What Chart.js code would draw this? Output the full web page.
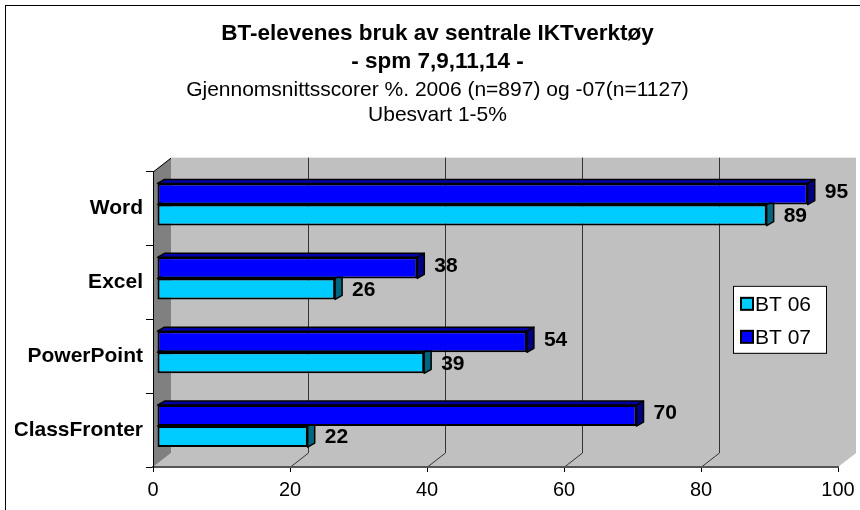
<!DOCTYPE html>
<html><head><meta charset="utf-8">
<script src="https://cdn.jsdelivr.net/npm/chart.js@4/dist/chart.umd.min.js"></script>
<style>html,body{margin:0;padding:0;background:#fff}#wrap{width:860px;height:510px}</style>
</head><body><div id="wrap"><canvas id="c" width="860" height="510"></canvas></div>
<script>
const categories = ['Word', 'Excel', 'PowerPoint', 'ClassFronter'];
const bt06 = [89, 26, 39, 22];
const bt07 = [95, 38, 54, 70];
const seriesNames = ['BT 06', 'BT 07'];
const xTickValues = [0, 20, 40, 60, 80, 100];
const titleLines = ['BT-elevenes bruk av sentrale IKTverktøy', '- spm 7,9,11,14 -'];
const subtitleLines = ['Gjennomsnittsscorer %. 2006 (n=897) og -07(n=1127)', 'Ubesvart 1-5%'];

const FONT = "'Liberation Sans', Arial, sans-serif";
const WALL = {dx: 18, dy: 14};
const SHIFT = {x: 4, y: -4};
const CAP = {x: 7, y: -4};

const threeD = {
  id: 'threeD',
  beforeDraw(chart) {
    const ctx = chart.ctx;
    const {left, right, top, bottom} = chart.chartArea;
    const xs = chart.scales.x;
    ctx.save();
    ctx.fillStyle = '#fff';
    ctx.fillRect(0, 0, chart.width, chart.height);
    ctx.strokeStyle = '#000';
    ctx.lineWidth = 1;
    ctx.strokeRect(5.5, 5.5, chart.width + 10, chart.height + 10);
    // back wall
    ctx.fillStyle = '#C0C0C0';
    ctx.fillRect(left + WALL.dx, top - WALL.dy, right - left, bottom - top);
    // floor
    ctx.beginPath();
    ctx.moveTo(left, bottom); ctx.lineTo(left + WALL.dx, bottom - WALL.dy);
    ctx.lineTo(right + WALL.dx, bottom - WALL.dy); ctx.lineTo(right, bottom);
    ctx.closePath(); ctx.fill();
    // left wall
    ctx.fillStyle = '#808080';
    ctx.beginPath();
    ctx.moveTo(left, top); ctx.lineTo(left + WALL.dx, top - WALL.dy);
    ctx.lineTo(left + WALL.dx, bottom - WALL.dy); ctx.lineTo(left, bottom);
    ctx.closePath(); ctx.fill();
    ctx.strokeStyle = '#000';
    ctx.beginPath();
    ctx.moveTo(left, top + 0.5); ctx.lineTo(left + WALL.dx, top - WALL.dy + 0.5);
    ctx.stroke();
    // grid lines on back wall + floor
    ctx.strokeStyle = '#333';
    ctx.lineWidth = 1;
    xs.ticks.forEach(t => {
      if (t.value <= xs.min || t.value >= xs.max) return;
      const px = Math.round(xs.getPixelForValue(t.value)) + 0.5;
      ctx.beginPath();
      ctx.moveTo(px + WALL.dx, top - WALL.dy);
      ctx.lineTo(px + WALL.dx, bottom - WALL.dy);
      ctx.moveTo(px, bottom);
      ctx.lineTo(px + WALL.dx, bottom - WALL.dy);
      ctx.stroke();
    });
    ctx.restore();
  },
  beforeDatasetsDraw(chart) {
    chart.ctx.save();
    chart.ctx.translate(SHIFT.x, SHIFT.y);
  },
  afterDatasetDraw(chart, args) {
    const ctx = chart.ctx;
    const ds = chart.data.datasets[args.index];
    ctx.save();
    ctx.strokeStyle = '#000';
    ctx.lineWidth = 1.5;
    ctx.lineJoin = 'round';
    args.meta.data.forEach(el => {
      const p = el.getProps(['x', 'y', 'base', 'height'], true);
      const t = p.y - p.height / 2, b = p.y + p.height / 2;
      ctx.fillStyle = ds.capColor;
      ctx.beginPath();
      ctx.moveTo(p.base, t); ctx.lineTo(p.base + CAP.x, t + CAP.y);
      ctx.lineTo(p.x + CAP.x, t + CAP.y); ctx.lineTo(p.x, t);
      ctx.closePath(); ctx.fill(); ctx.stroke();
      ctx.fillStyle = ds.sideColor;
      ctx.beginPath();
      ctx.moveTo(p.x, t); ctx.lineTo(p.x + CAP.x, t + CAP.y);
      ctx.lineTo(p.x + CAP.x, b + CAP.y); ctx.lineTo(p.x, b);
      ctx.closePath(); ctx.fill(); ctx.stroke();
    });
    ctx.restore();
  },
  afterDatasetsDraw(chart) {
    const ctx = chart.ctx;
    ctx.restore();
    ctx.save();
    // value labels
    ctx.fillStyle = '#000';
    ctx.font = 'bold 21px ' + FONT;
    ctx.textAlign = 'left';
    ctx.textBaseline = 'middle';
    chart.data.datasets.forEach((ds, i) => {
      chart.getDatasetMeta(i).data.forEach((el, j) => {
        ctx.fillText(String(ds.data[j]), el.x + SHIFT.x + 17, el.y + SHIFT.y + ds.labelDy);
      });
    });
    // legend
    const {right, top, bottom} = chart.chartArea;
    const w = 93, h = 67;
    const bx = right - 12 - w, by = (top + bottom) / 2 - h / 2;
    ctx.fillStyle = '#fff';
    ctx.fillRect(bx, by, w, h);
    ctx.strokeStyle = '#000';
    ctx.lineWidth = 1;
    ctx.strokeRect(bx + 0.5, by + 0.5, w, h);
    ctx.font = '21px ' + FONT;
    const order = chart.data.datasets.map((d, i) => i).reverse();
    order.forEach((di, k) => {
      const ds = chart.data.datasets[di];
      const cy = by + 18 + k * 33;
      ctx.fillStyle = ds.backgroundColor;
      ctx.fillRect(bx + 8, cy - 6, 12, 12);
      ctx.lineWidth = 2;
      ctx.strokeRect(bx + 8, cy - 6, 12, 12);
      ctx.fillStyle = '#000';
      ctx.fillText(ds.label, bx + 22, cy + 1);
    });
    ctx.restore();
  }
};

new Chart(document.getElementById('c'), {
  type: 'bar',
  data: {
    labels: categories,
    datasets: [
      {label: seriesNames[1], data: bt07, backgroundColor: '#0000FF', capColor: '#0000A8', sideColor: '#000080', labelDy: -2,
       borderColor: '#000', borderWidth: 2, borderSkipped: false, categoryPercentage: 0.57, barPercentage: 1, clip: false},
      {label: seriesNames[0], data: bt06, backgroundColor: '#00CCFF', capColor: '#0099C0', sideColor: '#006680', labelDy: 1,
       borderColor: '#000', borderWidth: 2, borderSkipped: false, categoryPercentage: 0.57, barPercentage: 1, clip: false}
    ]
  },
  options: {
    responsive: false,
    animation: false,
    indexAxis: 'y',
    layout: {padding: {left: 15, right: 0, top: 5, bottom: 0}},
    plugins: {
      legend: {display: false},
      tooltip: {enabled: false},
      title: {display: true, text: titleLines, color: '#000',
        font: {family: FONT, size: 22.5, weight: 'bold', lineHeight: 1.25}, padding: {top: 15, bottom: 0}},
      subtitle: {display: true, text: subtitleLines, color: '#000',
        font: {family: FONT, size: 21, weight: 'normal', lineHeight: 1.2}, padding: {top: 1, bottom: 44}}
    },
    scales: {
      x: {
        type: 'linear', min: 0, max: 100,
        afterBuildTicks: s => { s.ticks = xTickValues.map(v => ({value: v})); },
        afterFit: s => { s.height = 43; s.paddingRight = 22; },
        grid: {drawOnChartArea: false, drawTicks: true, tickLength: 5, color: '#000'},
        border: {display: true, color: '#555', width: 2},
        ticks: {color: '#000', font: {family: FONT, size: 20}, padding: 6, maxRotation: 0}
      },
      y: {
        afterFit: s => { s.width = 138; },
        grid: {drawOnChartArea: false, drawTicks: true, tickLength: 7, color: '#000', offset: true},
        border: {display: true, color: '#000', width: 1},
        ticks: {color: '#000', font: {family: FONT, size: 21, weight: 'bold'}, padding: 3}
      }
    }
  },
  plugins: [threeD]
});
</script></body></html>
